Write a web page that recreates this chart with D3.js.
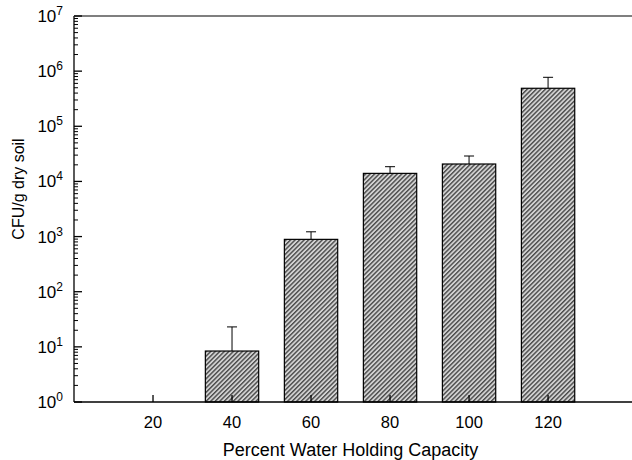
<!DOCTYPE html>
<html lang="en">

<head>
    <meta charset="UTF-8">
    <title>CFU vs Water Holding Capacity</title>
    <style>
        body {
            margin: 0;
            padding: 0;
            background: #fff;
        }

        svg {
            display: block;
        }

        text {
            font-family: Arial, "Liberation Sans", sans-serif;
            fill: #000;
        }
    </style>
</head>

<body>

    <svg width="632" height="460"></svg>

    <script src="https://d3js.org/d3.v7.min.js"></script>
    <script>
        // Percent water holding capacity (x categories)
        const waterCapacity = [20, 40, 60, 80, 100, 120];
        // Mean CFU/g dry soil (null = nothing grew)
        const cfuMean = [null, 8.4, 890, 14000, 20700, 489000];
        // Top of the error bars
        const cfuUpper = [null, 23, 1220, 18500, 28900, 773000];

        const xTicks = [20, 40, 60, 80, 100, 120];
        const yExponents = [0, 1, 2, 3, 4, 5, 6, 7];

        const svg = d3.select("svg");
        const plotLeft = 74, plotRight = 633, plotTop = 16, plotBottom = 402;
        const barWidth = 13.5; // in x units

        const x = d3.scaleLinear().domain([0, 141.5]).range([plotLeft, plotRight]);
        const y = d3.scaleLog().domain([1, 1e7]).range([plotBottom, plotTop]);

        // hatch fill for the bars
        const defs = svg.append("defs");
        const pat = defs.append("pattern")
            .attr("id", "hatch")
            .attr("patternUnits", "userSpaceOnUse")
            .attr("width", 3.2)
            .attr("height", 3.2)
            .attr("patternTransform", "rotate(-45)");
        pat.append("rect")
            .attr("width", 3.2).attr("height", 3.2)
            .attr("fill", "#d2d2d2");
        pat.append("rect")
            .attr("width", 3.2).attr("height", 1.4)
            .attr("fill", "#4a4a4a");

        const data = waterCapacity.map((c, i) => ({ c: c, v: cfuMean[i], hi: cfuUpper[i] }))
            .filter(d => d.v != null);

        // error bars (drawn first, bar covers the bottom)
        const err = svg.append("g").attr("stroke", "#000").attr("stroke-width", 1);
        err.selectAll("line.stem")
            .data(data)
            .enter()
            .append("line")
            .attr("class", "stem")
            .attr("x1", d => x(d.c)).attr("x2", d => x(d.c))
            .attr("y1", d => y(d.v)).attr("y2", d => y(d.hi));
        err.selectAll("line.cap")
            .data(data)
            .enter()
            .append("line")
            .attr("class", "cap")
            .attr("x1", d => x(d.c) - 5).attr("x2", d => x(d.c) + 5)
            .attr("y1", d => y(d.hi)).attr("y2", d => y(d.hi));

        // bars
        svg.append("g")
            .selectAll("rect")
            .data(data)
            .enter()
            .append("rect")
            .attr("x", d => x(d.c - barWidth / 2))
            .attr("width", d => x(barWidth) - x(0))
            .attr("y", d => y(d.v))
            .attr("height", d => plotBottom - y(d.v))
            .attr("fill", "url(#hatch)")
            .attr("stroke", "#000")
            .attr("stroke-width", 1.2);

        // frame: left, bottom, top
        const frame = svg.append("g").attr("stroke", "#000").attr("stroke-width", 1.3);
        frame.append("line").attr("x1", plotLeft).attr("x2", plotLeft).attr("y1", plotTop).attr("y2", plotBottom);
        frame.append("line").attr("x1", plotLeft).attr("x2", 632).attr("y1", plotBottom).attr("y2", plotBottom);
        frame.append("line").attr("x1", plotLeft).attr("x2", 632).attr("y1", plotTop).attr("y2", plotTop)
            .attr("stroke", "#555");

        // y ticks (inside), major + minor
        const minor = [];
        yExponents.slice(0, -1).forEach(e => {
            for (let k = 2; k <= 9; k++) minor.push(k * Math.pow(10, e));
        });
        frame.selectAll("line.ymin")
            .data(minor)
            .enter()
            .append("line")
            .attr("class", "ymin")
            .attr("x1", plotLeft).attr("x2", plotLeft + 4)
            .attr("y1", d => y(d)).attr("y2", d => y(d))
            .attr("stroke-width", 1);
        frame.selectAll("line.ymaj")
            .data(yExponents)
            .enter()
            .append("line")
            .attr("class", "ymaj")
            .attr("x1", plotLeft).attr("x2", plotLeft + 8)
            .attr("y1", d => y(Math.pow(10, d))).attr("y2", d => y(Math.pow(10, d)));

        // x ticks (inside)
        frame.selectAll("line.xt")
            .data(xTicks)
            .enter()
            .append("line")
            .attr("class", "xt")
            .attr("x1", d => x(d)).attr("x2", d => x(d))
            .attr("y1", plotBottom).attr("y2", plotBottom - 7);

        // y tick labels 10^n
        const yl = svg.append("g")
            .selectAll("text")
            .data(yExponents)
            .enter()
            .append("text")
            .attr("x", 63)
            .attr("y", d => y(Math.pow(10, d)) + 6)
            .attr("text-anchor", "end")
            .attr("font-size", 17);
        yl.append("tspan").text("10");
        yl.append("tspan")
            .attr("dy", -7)
            .attr("font-size", 12)
            .text(d => d);

        // x tick labels
        svg.append("g")
            .selectAll("text")
            .data(xTicks)
            .enter()
            .append("text")
            .attr("x", d => x(d))
            .attr("y", 428)
            .attr("text-anchor", "middle")
            .attr("font-size", 16.5)
            .text(d => d);

        // axis titles
        svg.append("text")
            .attr("x", x(70))
            .attr("y", 456)
            .attr("text-anchor", "middle")
            .attr("font-size", 18)
            .text("Percent Water Holding Capacity");

        svg.append("text")
            .attr("transform", "translate(24,189) rotate(-90)")
            .attr("text-anchor", "middle")
            .attr("font-size", 16)
            .text("CFU/g dry soil");
    </script>

</body>

</html>
